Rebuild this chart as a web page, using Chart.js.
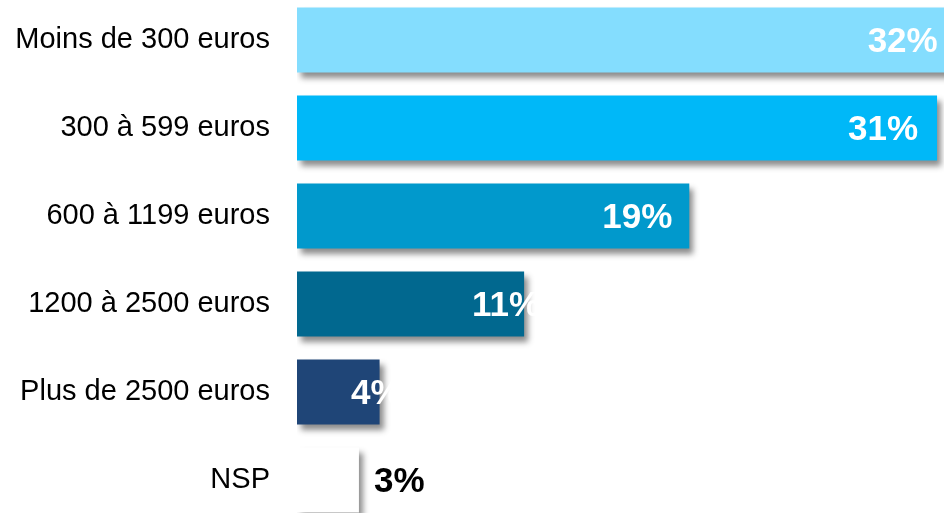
<!DOCTYPE html>
<html>
<head>
<meta charset="utf-8">
<script src="https://cdn.jsdelivr.net/npm/chart.js@4/dist/chart.umd.min.js"></script>
<style>
  html, body { margin: 0; padding: 0; background: #ffffff; }
  #wrap { position: relative; width: 944px; height: 513px; overflow: hidden; background: #fff; }
  #box { position: absolute; left: 0; top: -4px; width: 999px; height: 528px; }
</style>
</head>
<body>
<div id="wrap"><div id="box"><canvas id="c"></canvas></div></div>
<script>
// ---- data ----
const categories = ["Moins de 300 euros", "300 à 599 euros", "600 à 1199 euros", "1200 à 2500 euros", "Plus de 2500 euros", "NSP"];
const values = [32, 31, 19, 11, 4, 3];
const valueLabels = ["32%", "31%", "19%", "11%", "4%", "3%"];

// ---- styles ----
const barColors = ["#84DDFE", "#00B8F8", "#0199CC", "#01688F", "#1F4577", "#FFFFFF"];
const labelColors = ["#FFFFFF", "#FFFFFF", "#FFFFFF", "#FFFFFF", "#FFFFFF", "#000000"];
const labelAlign = ["right", "right", "right", "right", "right", "left"];
const labelShift = [-20, -19, -17, 16, 22, 15];

const shadowPlugin = {
  id: 'barShadow',
  beforeDatasetDraw(chart) {
    const ctx = chart.ctx;
    ctx.save();
    ctx.shadowColor = 'rgba(0,0,0,0.45)';
    ctx.shadowBlur = 6;
    ctx.shadowOffsetX = 4;
    ctx.shadowOffsetY = 5;
  },
  afterDatasetDraw(chart) {
    chart.ctx.restore();
  }
};

const labelPlugin = {
  id: 'valueLabels',
  afterDatasetsDraw(chart) {
    const ctx = chart.ctx;
    const meta = chart.getDatasetMeta(0);
    ctx.save();
    ctx.font = 'bold 35px "Liberation Sans", Arial, sans-serif';
    ctx.textBaseline = 'middle';
    meta.data.forEach((bar, i) => {
      ctx.fillStyle = labelColors[i];
      ctx.textAlign = labelAlign[i];
      ctx.fillText(valueLabels[i], bar.x + labelShift[i], bar.y + 2);
    });
    ctx.restore();
  }
};

new Chart(document.getElementById('c'), {
  type: 'bar',
  data: {
    labels: categories,
    datasets: [{
      data: values,
      backgroundColor: barColors,
      borderWidth: 0,
      barPercentage: 65 / 88,
      categoryPercentage: 1
    }]
  },
  options: {
    indexAxis: 'y',
    responsive: true,
    maintainAspectRatio: false,
    animation: false,
    layout: { padding: 0 },
    plugins: { legend: { display: false }, tooltip: { enabled: false } },
    scales: {
      x: { display: false, min: 0, max: 34 },
      y: {
        grid: { display: false, drawTicks: false },
        border: { display: false },
        ticks: {
          color: '#000000',
          padding: 27,
          font: { family: '"Liberation Sans", Arial, sans-serif', size: 29 }
        },
        afterFit(scale) {
          scale.width = 297;
          scale.paddingTop = 0;
          scale.paddingBottom = 0;
        }
      }
    }
  },
  plugins: [shadowPlugin, labelPlugin]
});
</script>
</body>
</html>
